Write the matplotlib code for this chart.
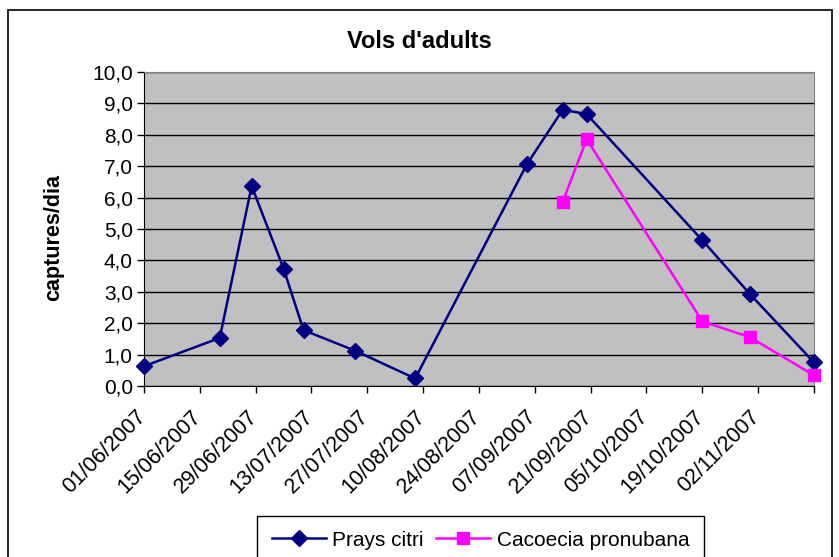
import matplotlib
matplotlib.use('Agg')
import matplotlib.pyplot as plt
import matplotlib.transforms as mtransforms
from datetime import datetime, timedelta

plt.rcParams['font.family'] = ['Liberation Sans', 'DejaVu Sans']

# Data
prays_dates = ['2007-06-01', '2007-06-20', '2007-06-28', '2007-07-06', '2007-07-11',
               '2007-07-24', '2007-08-08', '2007-09-05', '2007-09-14', '2007-09-20',
               '2007-10-19', '2007-10-31', '2007-11-16']
prays_values = [0.63, 1.53, 6.37, 3.74, 1.78, 1.12, 0.24, 7.06, 8.80, 8.66, 4.64, 2.92, 0.75]

cacoecia_dates = ['2007-09-14', '2007-09-20', '2007-10-19', '2007-10-31', '2007-11-16']
cacoecia_values = [5.87, 7.86, 2.06, 1.55, 0.34]

x_start = '2007-06-01'
x_end = '2007-11-16'
y_ticks = [0, 1, 2, 3, 4, 5, 6, 7, 8, 9, 10]

to_dt = lambda s: datetime.strptime(s, '%Y-%m-%d')

fig = plt.figure(figsize=(8.39, 5.57), dpi=100)
ax = fig.add_axes([0.1716, 0.307, 0.7986, 0.5637])
ax.set_facecolor('#C0C0C0')

ax.plot([to_dt(d) for d in prays_dates], prays_values, color='#000080', lw=1.8,
        marker='D', markersize=8.5, label='Prays citri', zorder=3, clip_on=False)
ax.plot([to_dt(d) for d in cacoecia_dates], cacoecia_values, color='#FF00FF', lw=1.8,
        marker='s', markersize=8, label='Cacoecia pronubana', zorder=3, clip_on=False)

# axes
ax.set_ylim(0, 10)
ax.set_yticks(y_ticks)
ax.set_yticklabels([('%.1f' % v).replace('.', ',') for v in y_ticks], fontsize=15)
ax.yaxis.grid(True, color='black', lw=1)
ax.set_axisbelow(True)

start, end = to_dt(x_start), to_dt(x_end)
ax.set_xlim(start, end)
ticks = []
t = start
while t <= end:
    ticks.append(t)
    t += timedelta(days=14)
ax.set_xticks(ticks)
labels = [d.strftime('%d/%m/%Y') for d in ticks]
labels[-1] = ''
ax.set_xticklabels(labels, rotation=45, ha='right', rotation_mode='anchor', fontsize=15.5)
ax.tick_params(axis='both', direction='out', length=5, color='black', width=1)
ax.tick_params(axis='x', pad=5)
ax.tick_params(axis='y', pad=3)

# shift the date labels a bit down-left, like the original
offset = mtransforms.ScaledTranslation(-9 / 100, -6 / 100, fig.dpi_scale_trans)
for lab in ax.get_xticklabels():
    lab.set_transform(lab.get_transform() + offset)

for s in ['top', 'right']:
    ax.spines[s].set_color('#808080')
for s in ['left', 'bottom']:
    ax.spines[s].set_color('black')

fig.text(0.5, 0.925, "Vols d'adults", ha='center', va='center', fontsize=17, fontweight='bold')
fig.text(0.064, 0.573, 'captures/dia', ha='center', va='center', rotation=90,
         fontsize=15.5, fontweight='bold')

leg = fig.legend(loc='upper center', bbox_to_anchor=(0.5727, 0.0736), ncol=2, fontsize=15,
                 fancybox=False, edgecolor='black', framealpha=1, handlelength=2.6,
                 borderpad=0.7, borderaxespad=0, columnspacing=0.6, handletextpad=0.3)
leg.get_frame().set_linewidth(1)

# outer chart border
fig.patches.append(plt.Rectangle((8 / 839, -0.01), 824 / 839, 1.01 - 10 / 557,
                                 transform=fig.transFigure, fill=False,
                                 edgecolor='black', lw=1.2))

fig.savefig('out.png', dpi=100)
